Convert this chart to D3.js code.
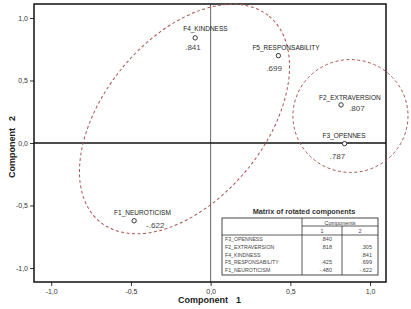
<!DOCTYPE html>
<html>
<head>
<meta charset="utf-8">
<script src="https://cdn.jsdelivr.net/npm/d3@7"></script>
<style>
  body { margin: 0; background: #fff; }
  svg { display: block; font-family: "Liberation Sans", Arial, sans-serif; }
</style>
</head>
<body>
<svg id="chart" width="411" height="309"></svg>
<script>
// Datos: cargas de los componentes rotados
var pointLabels = ["F4_KINDNESS", "F5_RESPONSABILITY", "F2_EXTRAVERSION", "F3_OPENNES", "F1_NEUROTICISM"];
var pointX = [-0.097, 0.425, 0.818, 0.840, -0.480];
var pointY = [0.841, 0.699, 0.305, -0.005, -0.622];
var pointValues = [".841", ".699", ".807", ".787", "-.622"];

var ticks = [-1.0, -0.5, 0.0, 0.5, 1.0];

// Tabla "Matrix of rotated components"
var tableTitle = "Matrix of rotated components";
var tableRows = ["F3_OPENNESS", "F2_EXTRAVERSION", "F4_KINDNESS", "F5_RESPONSABILITY", "F1_NEUROTICISM"];
var tableComp1 = [".840", ".818", "", ".425", "-.480"];
var tableComp2 = ["", ".305", ".841", ".699", "-.622"];

// Grupos (elipses): centro en unidades de datos, semiejes en unidades del eje x
var groupCx = [-0.164, 0.877];
var groupCy = [0.192, 0.216];
var groupA = [0.835, 0.361];
var groupB = [0.505, 0.354];
var groupAngle = [50.5, 0];

var svg = d3.select("#chart");
var L = 34, R = 386, T = 4, B = 282;

var x = d3.scaleLinear().domain([-1.108, 1.1]).range([L, R]);
var y = d3.scaleLinear().domain([-1.112, 1.112]).range([B, T]);
var fmt = function(d) { return d3.format(".1f")(d).replace(".", ",").replace("−", "-"); };

// ejes
var gy = svg.append("g").attr("transform", "translate(" + L + ",0)")
	.call(d3.axisLeft(y).tickValues(ticks).tickSize(4).tickPadding(2).tickFormat(fmt));
var gx = svg.append("g").attr("transform", "translate(0," + B + ")")
	.call(d3.axisBottom(x).tickValues(ticks).tickSize(4).tickPadding(3).tickFormat(fmt));
[gx, gy].forEach(function(g) {
	g.select(".domain").remove();
	g.selectAll(".tick line").attr("stroke", "#333");
	g.selectAll(".tick text").attr("fill", "#333").style("font-size", "7px")
		.style("font-family", "'Liberation Sans', Arial, sans-serif");
});

// líneas de referencia
svg.append("line").attr("x1", x(0)).attr("x2", x(0)).attr("y1", T).attr("y2", B)
	.attr("stroke", "#666").attr("stroke-width", 1);
svg.append("line").attr("x1", L).attr("x2", R).attr("y1", y(0)).attr("y2", y(0))
	.attr("stroke", "#111").attr("stroke-width", 1.3);

// marco
svg.append("rect").attr("x", L).attr("y", T).attr("width", R - L).attr("height", B - T)
	.attr("fill", "none").attr("stroke", "#111").attr("stroke-width", 1.5);

// elipses de agrupación
var unit = x(1) - x(0);
groupCx.forEach(function(cx, i) {
	svg.append("ellipse")
		.attr("transform", "translate(" + x(cx) + "," + y(groupCy[i]) + ") rotate(" + (-groupAngle[i]) + ")")
		.attr("rx", groupA[i] * unit).attr("ry", groupB[i] * unit)
		.attr("fill", "none").attr("stroke", "#a85656").attr("stroke-width", 1)
		.attr("stroke-dasharray", "3,2.5");
});

// puntos y etiquetas (desplazamientos en px)
var labelOff = [[-12, -7], [-26, -6], [-22, -5], [-22, -6], [-20, -6]];
var valueOff = [[-10, 12], [-12, 15], [8, 6], [-15, 15], [12, 7]];
pointLabels.forEach(function(name, i) {
	var px = x(pointX[i]), py = y(pointY[i]);
	svg.append("circle").attr("cx", px).attr("cy", py).attr("r", 2.2)
		.attr("fill", "#fff").attr("stroke", "#222").attr("stroke-width", 0.9);
	svg.append("text").attr("x", px + labelOff[i][0]).attr("y", py + labelOff[i][1])
		.style("font-size", "6.5px").attr("fill", "#222").text(name);
	svg.append("text").attr("x", px + valueOff[i][0]).attr("y", py + valueOff[i][1])
		.style("font-size", "8px").attr("fill", "#444").text(pointValues[i]);
});

// títulos de ejes
svg.append("text").attr("x", 178).attr("y", 303)
	.style("font-size", "9px").style("font-weight", "bold").attr("fill", "#222")
	.text("Component").append("tspan").attr("dx", 8).text("1");
svg.append("text").attr("transform", "translate(15,178) rotate(-90)")
	.style("font-size", "9px").style("font-weight", "bold").attr("fill", "#222")
	.text("Component").append("tspan").attr("dx", 7).text("2");

// tabla
var tL = 222, tR = 378, tT = 218, tB = 275, c1 = 302, c2 = 342;
var tg = svg.append("g");
tg.append("text").attr("x", 304).attr("y", 214).attr("text-anchor", "middle")
	.style("font-size", "7.3px").style("font-weight", "bold").attr("fill", "#333").text(tableTitle);
tg.append("rect").attr("x", tL).attr("y", tT).attr("width", tR - tL).attr("height", tB - tT)
	.attr("fill", "#fff").attr("stroke", "#333").attr("stroke-width", 0.9);
tg.append("line").attr("x1", c1).attr("x2", c1).attr("y1", tT).attr("y2", tB).attr("stroke", "#333").attr("stroke-width", 0.8);
tg.append("line").attr("x1", c2).attr("x2", c2).attr("y1", tT + 8).attr("y2", tB).attr("stroke", "#333").attr("stroke-width", 0.8);
tg.append("line").attr("x1", c1).attr("x2", tR).attr("y1", tT + 8).attr("y2", tT + 8).attr("stroke", "#333").attr("stroke-width", 0.8);
tg.append("line").attr("x1", tL).attr("x2", tR).attr("y1", tT + 17).attr("y2", tT + 17).attr("stroke", "#333").attr("stroke-width", 0.8);
tg.append("text").attr("x", (c1 + tR) / 2).attr("y", tT + 6.5).attr("text-anchor", "middle")
	.style("font-size", "5.5px").attr("fill", "#444").text("Components");
tg.append("text").attr("x", (c1 + c2) / 2).attr("y", tT + 15).attr("text-anchor", "middle")
	.style("font-size", "5.5px").attr("fill", "#444").text("1");
tg.append("text").attr("x", (c2 + tR) / 2).attr("y", tT + 15).attr("text-anchor", "middle")
	.style("font-size", "5.5px").attr("fill", "#444").text("2");
var rowY = d3.scalePoint().domain(tableRows).range([tT + 23, tB - 3]);
tableRows.forEach(function(r, i) {
	var ry = rowY(r);
	tg.append("text").attr("x", tL + 3).attr("y", ry).style("font-size", "5.2px").attr("fill", "#444").text(r);
	tg.append("text").attr("x", c2 - 10).attr("y", ry).attr("text-anchor", "end")
		.style("font-size", "5.5px").attr("fill", "#444").text(tableComp1[i]);
	tg.append("text").attr("x", tR - 6).attr("y", ry).attr("text-anchor", "end")
		.style("font-size", "5.5px").attr("fill", "#444").text(tableComp2[i]);
});
</script>
</body>
</html>
